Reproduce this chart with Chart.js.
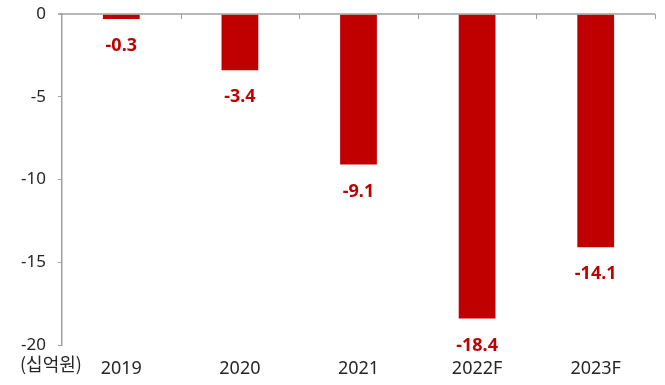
<!DOCTYPE html>
<html>
<head>
<meta charset="utf-8">
<script src="https://cdn.jsdelivr.net/npm/chart.js@4/dist/chart.umd.min.js"></script>
<style>
  html, body { margin: 0; padding: 0; background: #fff; }
  #wrap { width: 665px; height: 385px; }
</style>
</head>
<body>
<div id="wrap"><canvas id="c" width="665" height="385"></canvas></div>
<script>
// Annual figures, in billions of won
const years = ['2019', '2020', '2021', '2022F', '2023F'];
const values = [-0.3, -3.4, -9.1, -18.4, -14.1];
const yTicks = [0, -5, -10, -15, -20];
const unitLabel = '(십억원)';

const BAR = '#C00000';
const AXIS = '#a0a0a0';
const TEXT = '#262626';
const FONT = "'Noto Sans', 'Noto Sans CJK KR', sans-serif";

// Zero line with inward ticks at category boundaries, value labels, unit caption
const decor = {
  id: 'decor',
  afterDatasetsDraw(chart) {
    const { ctx, chartArea, scales } = chart;
    const y = scales.y;
    const y0 = y.getPixelForValue(0);
    ctx.save();
    ctx.strokeStyle = AXIS;
    ctx.lineWidth = 1.5;
    ctx.beginPath();
    ctx.moveTo(chartArea.left - 4, y0);
    ctx.lineTo(chartArea.right, y0);
    ctx.stroke();
    ctx.lineWidth = 1;
    for (let i = 1; i <= years.length; i++) {
      const px = Math.round(chartArea.left + (chartArea.right - chartArea.left) * i / years.length) + 0.5;
      ctx.beginPath();
      ctx.moveTo(px, y0);
      ctx.lineTo(px, y0 + 5);
      ctx.stroke();
    }
    // value labels under each bar
    const meta = chart.getDatasetMeta(0);
    ctx.fillStyle = BAR;
    ctx.font = "bold 18px " + FONT;
    ctx.textAlign = 'center';
    ctx.textBaseline = 'middle';
    meta.data.forEach((bar, i) => {
      ctx.fillText(values[i].toFixed(1), bar.x, bar.y + 27);
    });
    // unit caption
    ctx.fillStyle = TEXT;
    ctx.font = "18px 'Noto Sans CJK KR', sans-serif";
    ctx.textAlign = 'left';
    ctx.fillText(unitLabel, 20, y.getPixelForValue(-20) + 19);
    ctx.restore();
  }
};

new Chart(document.getElementById('c'), {
  type: 'bar',
  data: {
    labels: years,
    datasets: [{
      data: values,
      backgroundColor: BAR,
      borderWidth: 0,
      barPercentage: 0.31,
      categoryPercentage: 1
    }]
  },
  options: {
    responsive: false,
    animation: false,
    layout: { padding: { top: 14, right: 10, left: 0, bottom: 0 } },
    plugins: { legend: { display: false }, tooltip: { enabled: false } },
    scales: {
      x: {
        position: 'bottom',
        grid: { display: false },
        border: { display: false },
        ticks: { color: TEXT, font: { family: FONT, size: 18 }, padding: 5 },
        afterFit(s) { s.height = 40; }
      },
      y: {
        min: -20, max: 0,
        afterBuildTicks(s) { s.ticks = yTicks.map(v => ({ value: v })); },
        grid: { drawOnChartArea: false, color: AXIS, tickLength: 4 },
        border: { display: true, color: AXIS, width: 1.5 },
        ticks: { color: TEXT, font: { family: FONT, size: 17 }, padding: 12 },
        afterFit(s) { s.width = 62; s.paddingTop = 0; s.paddingBottom = 0; }
      }
    }
  },
  plugins: [decor]
});
</script>
</body>
</html>
